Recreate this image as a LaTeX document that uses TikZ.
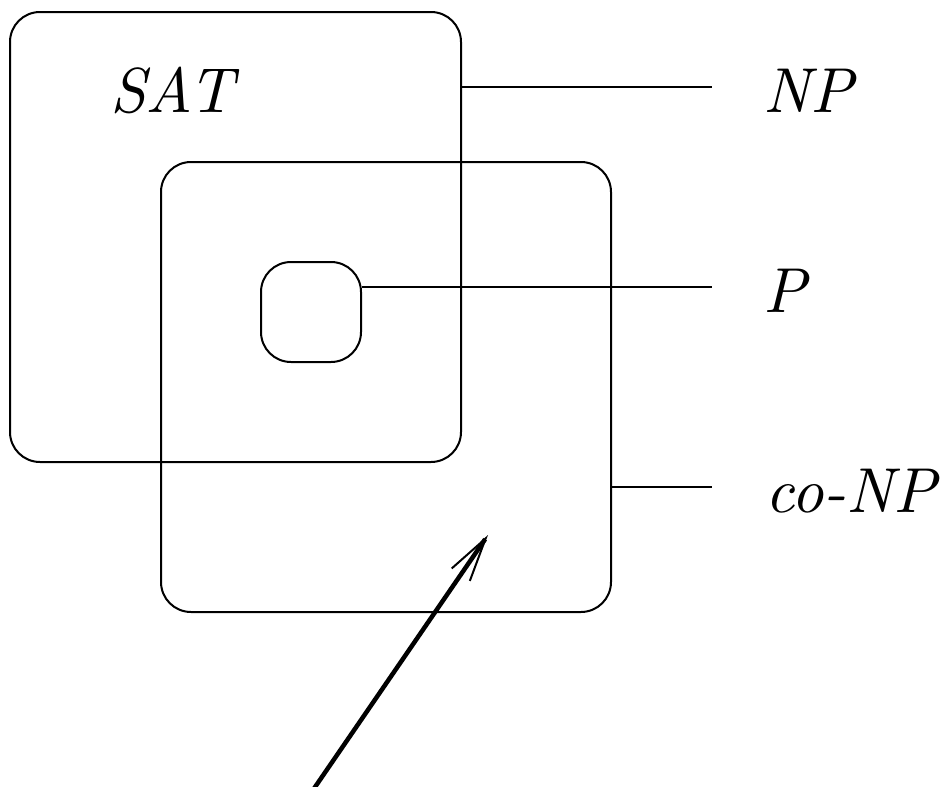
\RequirePackage{fix-cm}
\documentclass[tikz,border=0pt]{standalone}
\usetikzlibrary{arrows.meta}
\begin{document}
\begin{tikzpicture}[x=1pt,y=-1pt,
  setbox/.style={draw,line width=2pt,rounded corners=30pt,inner sep=0pt},
  thinline/.style={line width=2pt},
  lbl/.style={inner sep=0pt,anchor=base west,scale=6.35,font=\fontsize{10}{12}\selectfont\itshape}]
\useasboundingbox (0,0) rectangle (946,787);
\node[setbox,minimum width=451pt,minimum height=450pt] (npbox) at (235.5,237) {};
\node[setbox,minimum width=450pt,minimum height=450pt] (conpbox) at (386,387) {};
\node[setbox,minimum width=100pt,minimum height=100pt] (pbox) at (311,312) {};
\node[lbl] (sat) at (109,112) {SAT};
\node[lbl] (nplbl) at (762,112) {NP};
\node[lbl] (plbl) at (762,312) {P};
\node[lbl] (conplbl) at (764,512) {co-NP};
\coordinate (e1) at (712,87);
\coordinate (e2) at (712,287);
\coordinate (e3) at (712,487);
\draw[thinline] (npbox.east |- e1) -- (e1);
\draw[thinline] (pbox.east |- e2) -- (e2);
\draw[thinline] (conpbox.east |- e3) -- (e3);
\coordinate (astart) at (313,790);
\coordinate (aend) at (488,535);
\draw[line width=4.5pt,-{Straight Barb[length=44pt,width=22pt,line width=2pt]}] (astart) -- (aend);
\end{tikzpicture}
\end{document}
